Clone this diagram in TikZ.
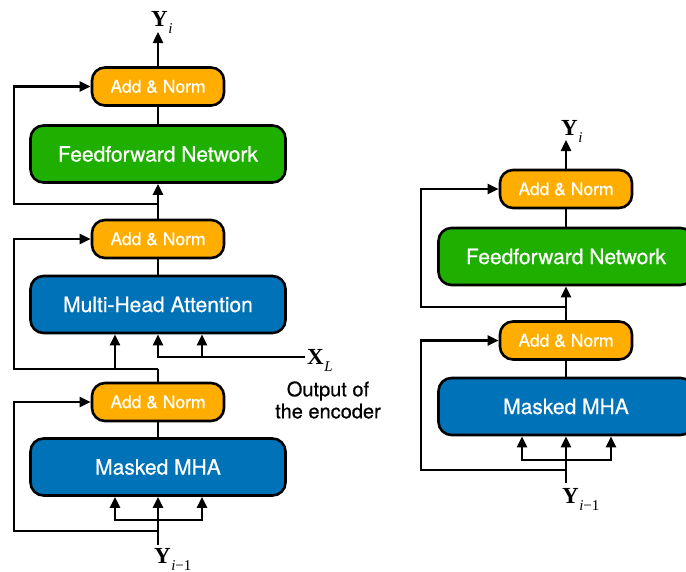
\documentclass[tikz,border=0pt]{standalone}
\usepackage{fontspec}
\setsansfont{TeX Gyre Heros}
\newfontfamily\boxfont[FakeBold=0.6]{TeX Gyre Heros}
\newfontfamily\lblfont{Liberation Serif}
\usetikzlibrary{arrows.meta}
\definecolor{normorange}{HTML}{FFAE00}
\definecolor{ffgreen}{HTML}{1EAF00}
\definecolor{attblue}{HTML}{0072B8}
% bold symbol with a lowered italic subscript
\newcommand{\symsub}[2]{{\lblfont\fontsize{23}{23}\selectfont\textbf{#1}\kern0.5pt\raisebox{-7pt}{\fontsize{15}{15}\selectfont #2}}}
\begin{document}
\begin{tikzpicture}[x=1pt,y=-1pt,
  blk/.style={draw=black,line width=2.6pt,rounded corners=13pt,text=white,
    font=\boxfont\fontsize{21}{21}\selectfont,minimum width=255pt,minimum height=57pt,inner sep=0pt},
  normbox/.style={blk,fill=normorange,minimum width=132pt,minimum height=38pt,
    font=\boxfont\fontsize{17.5}{17.5}\selectfont},
  ffbox/.style={blk,fill=ffgreen},
  attbox/.style={blk,fill=attblue},
  wire/.style={line width=2.4pt},
  arr/.style={wire,-{Triangle[length=11pt,width=10pt]}},
  lbl/.style={inner sep=0pt,anchor=base west},
  note/.style={inner sep=0pt,align=center,font=\boxfont\fontsize{20}{22}\selectfont}]
\useasboundingbox (0,0) rectangle (686,571);

% ---------------- left stack: decoder block with cross attention
\node[normbox] (an1) at (158,86.5) {Add \& Norm};
\node[ffbox]   (ff1) at (158,154) {Feedforward Network};
\node[normbox] (an2) at (158,239) {Add \& Norm};
\node[attbox]  (mha) at (158,304.5) {Multi-Head Attention};
\node[normbox] (an3) at (158,402) {Add \& Norm};
\node[attbox]  (mm1) at (158,467) {Masked MHA};

\node[lbl] (yo1) at (151,26) {\symsub{Y}{\itshape i}};
\node[lbl] (yi1) at (154,563) {\symsub{Y}{\itshape i\upshape −1}};
\node[lbl] (xl) at (307,364.5) {\symsub{X}{\itshape L}};
\node[note] (enc) at (328,400) {Output of\\the encoder};

\coordinate (top1) at (158,32);
\coordinate (j1) at (158,204);
\coordinate (j2) at (158,369);
\coordinate (xend) at (305,357);
\coordinate (b1) at (158,520);
\coordinate (r3) at (158,531);
\coordinate (bot1) at (158,545);

\draw[arr] (an1.north) -- (top1);
\draw[wire] (an1.south) -- (ff1.north);
\draw[arr] (an2.north) -- (ff1.south);
\draw[arr] (j1) -- (14,204) |- (an1.west);
\draw[wire] (an2.south) -- (mha.north);
\draw[wire] (an3.north) -- (j2);
\draw[arr] (j2) -- (14,369) |- (an2.west);
\draw[arr] (j2) -| ([xshift=-43pt]mha.south);
\draw[arr] (xend) -| (mha.south);
\draw[arr] ([xshift=44pt]mha.south |- xend) -- ([xshift=44pt]mha.south);
\draw[wire] (an3.south) -- (mm1.north);
\draw[arr] (bot1) -- (mm1.south);
\draw[arr] (b1) -| ([xshift=-43pt]mm1.south);
\draw[arr] (b1) -| ([xshift=44pt]mm1.south);
\draw[arr] (r3) -- (14,531) |- (an3.west);

% ---------------- right stack: decoder-only block
\node[normbox] (ran1) at (566,189) {Add \& Norm};
\node[ffbox]   (rff)  at (566,256.5) {Feedforward Network};
\node[normbox] (ran2) at (566,340.5) {Add \& Norm};
\node[attbox]  (rmm)  at (566,406.5) {Masked MHA};

\node[lbl] (yo2) at (561,135) {\symsub{Y}{\itshape i}};
\node[lbl] (yi2) at (562,503) {\symsub{Y}{\itshape i\upshape −1}};

\coordinate (top2) at (566,140);
\coordinate (rj1) at (566,307);
\coordinate (rb1) at (566,460);
\coordinate (rr2) at (566,470);
\coordinate (bot2) at (566,483);

\draw[arr] (ran1.north) -- (top2);
\draw[wire] (ran1.south) -- (rff.north);
\draw[arr] (ran2.north) -- (rff.south);
\draw[arr] (rj1) -- (421,307) |- (ran1.west);
\draw[wire] (ran2.south) -- (rmm.north);
\draw[arr] (bot2) -- (rmm.south);
\draw[arr] (rb1) -| ([xshift=-44pt]rmm.south);
\draw[arr] (rb1) -| ([xshift=45pt]rmm.south);
\draw[arr] (rr2) -- (421,470) |- (ran2.west);
\end{tikzpicture}
\end{document}
